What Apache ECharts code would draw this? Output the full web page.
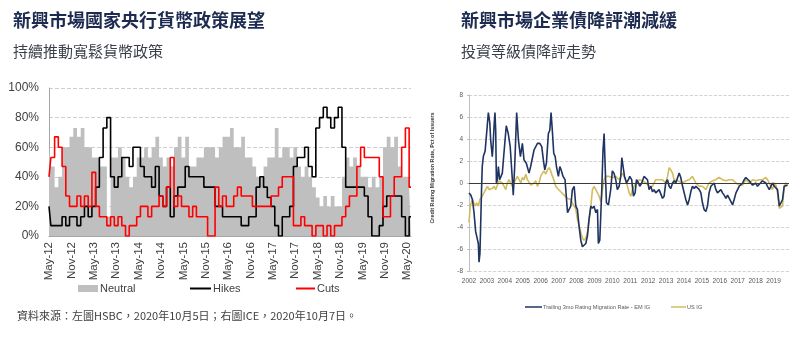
<!DOCTYPE html>
<html><head><meta charset="utf-8">
<script src="https://cdn.jsdelivr.net/npm/echarts@6/dist/echarts.min.js"></script>
<style>html,body{margin:0;padding:0;background:#fff}#c{width:801px;height:341px}</style>
</head><body><div id="c"></div>
<script>
// ---------- Left chart: EM central bank policy (monthly, May-12 .. Jun-20) ----------
const monNames = ['Jan','Feb','Mar','Apr','May','Jun','Jul','Aug','Sep','Oct','Nov','Dec'];
const months = [];
for (let i = 0; i < 98; i++) {
  const mi = (4 + i) % 12, yr = 12 + Math.floor((4 + i) / 12);
  months.push(monNames[mi] + '-' + yr);
}
const neutral = [60,47,33,40,60,60,67,73,67,73,60,60,53,53,47,47,13,53,53,60,
                 53,40,33,40,53,53,60,53,60,67,53,47,53,47,60,67,53,67,47,47,
                 53,53,60,60,60,53,60,67,67,73,60,60,67,53,53,47,40,40,47,53,
                 53,73,53,60,60,53,60,47,40,47,40,33,26,20,27,20,27,20,20,40,
                 53,47,53,47,40,40,33,40,33,40,60,67,60,67,47,40,40,33];
const hikes = [20,7,7,7,13,7,13,13,7,13,20,13,20,33,53,73,80,40,33,40,
               53,53,47,60,60,47,40,40,33,47,27,20,33,13,27,33,33,47,40,40,
               40,40,33,33,33,20,20,13,13,13,13,13,7,7,13,13,33,40,33,26,
               20,7,0,13,13,20,47,53,53,60,47,40,73,80,87,80,73,80,87,60,
               33,33,33,33,33,27,13,0,0,7,20,27,27,27,27,13,0,13];
const cuts = [40,53,67,60,47,27,20,20,27,20,27,20,43,20,13,13,7,13,7,13,
              7,0,7,7,13,20,20,13,20,20,27,20,33,53,20,27,20,20,13,20,
              13,13,13,0,0,33,20,27,20,20,27,33,27,27,27,20,20,20,20,20,
              27,27,33,40,40,40,7,7,13,7,7,0,7,7,0,7,0,7,7,13,
              20,27,27,47,60,53,53,53,53,40,13,13,27,40,40,60,73,33];
const leftTicks = [0,20,40,60,80,100];

// ---------- Right chart: rating migration rate ----------
const emX = [2002.00,2002.10,2002.19,2002.28,2002.37,2002.46,2002.52,2002.56,2002.61,2002.65,2002.70,2002.74,2002.80,2002.90,2002.98,
 2003.08,2003.16,2003.21,2003.30,2003.34,2003.40,2003.45,2003.49,2003.53,2003.58,2003.64,2003.71,2003.86,2003.95,
 2004.08,2004.19,2004.30,2004.42,2004.47,2004.55,2004.66,2004.76,2004.87,2004.98,
 2005.07,2005.20,2005.35,2005.44,2005.54,2005.63,2005.72,2005.82,2005.95,
 2006.06,2006.15,2006.23,2006.32,2006.43,2006.51,2006.58,2006.65,2006.73,2006.81,2006.88,2006.99,
 2007.07,2007.14,2007.25,2007.36,2007.50,2007.59,2007.68,2007.77,2007.87,2007.96,
 2008.05,2008.14,2008.24,2008.33,2008.42,2008.52,2008.61,2008.70,2008.80,2008.89,2008.98,
 2009.08,2009.17,2009.22,2009.30,2009.36,2009.41,2009.48,2009.54,2009.60,2009.67,2009.78,2009.91,
 2010.00,2010.09,2010.19,2010.28,2010.38,2010.47,2010.53,2010.60,2010.68,2010.79,2010.90,2010.97,
 2011.08,2011.18,2011.27,2011.35,2011.46,2011.53,2011.64,2011.77,2011.87,2011.96,
 2012.05,2012.15,2012.24,2012.33,2012.42,2012.61,2012.80,2012.89,2012.98,
 2013.08,2013.17,2013.26,2013.36,2013.45,2013.54,2013.73,2013.82,2013.92,
 2014.01,2014.10,2014.20,2014.29,2014.38,2014.47,2014.57,2014.66,2014.85,2014.94,
 2015.03,2015.12,2015.22,2015.31,2015.40,2015.50,2015.59,2015.68,2015.78,2015.87,2015.96,
 2016.06,2016.15,2016.24,2016.34,2016.43,2016.52,2016.62,2016.71,2016.80,2016.90,2016.99,
 2017.08,2017.18,2017.27,2017.36,2017.45,2017.55,2017.64,2017.73,2017.83,2017.92,
 2018.01,2018.10,2018.20,2018.38,2018.48,2018.57,2018.66,2018.76,2018.85,2018.94,
 2019.04,2019.13,2019.22,2019.32,2019.41,2019.50,2019.59,2019.69,2019.78];
const emY = [-0.9,-1.1,-1.5,-2.7,-4.4,-4.5,-5.5,-7.2,-6.4,-3.9,-0.6,1.5,2.4,2.9,3.0,
 6.4,5.5,3.9,2.4,3.3,5.2,6.4,4.8,0.0,0.3,1.5,0.3,0.9,2.7,
 5.2,4.5,3.3,0.3,-1.1,1.5,6.4,3.9,2.4,3.6,
 2.1,1.8,0.9,1.5,1.5,3.0,3.0,3.6,3.6,
 3.3,2.1,1.2,1.8,4.5,4.8,6.4,4.8,2.7,2.4,1.5,0.6,
 1.5,1.2,0.6,0.3,-2.7,-2.4,-2.1,-0.6,-0.3,-2.1,
 -2.4,-3.9,-5.2,-5.8,-5.9,-5.5,-4.8,-3.3,-2.1,-2.3,-2.1,
 -2.7,-2.4,-5.5,-5.2,-2.7,-0.6,3.0,4.5,1.5,-1.8,-2.0,-0.6,
 1.1,0.9,0.3,-0.6,-0.3,0.6,2.3,1.5,0.6,0.0,0.3,0.6,
 0.3,-1.2,-0.9,0.3,0.0,-0.3,0.0,0.6,0.5,0.3,
 -0.6,-0.3,-0.8,-0.6,-0.9,-0.6,-1.4,-1.2,0.0,
 0.3,-0.3,-0.5,0.0,0.2,0.0,0.9,0.5,-0.3,
 -0.9,-1.5,-2.0,-1.5,-0.8,-0.3,-0.5,-0.3,-0.6,-0.9,
 -1.8,-2.4,-2.6,-2.1,-0.9,-0.3,-0.2,0.0,-0.6,-0.9,-0.9,
 -0.6,-0.9,-1.1,-1.4,-1.1,-1.2,-1.7,-2.0,-1.5,-0.9,-0.6,
 -0.3,-0.3,0.0,0.3,0.5,0.4,0.2,0.0,-0.2,-0.3,
 0.0,-0.3,-0.2,0.2,0.2,0.0,-0.3,-0.6,-0.3,0.0,
 -0.3,-0.2,-0.6,-2.1,-2.1,-1.5,-0.3,-0.2,-0.2];
const usX = [2002.00,2002.07,2002.19,2002.24,2002.33,2002.43,2002.52,2002.61,2002.74,2002.84,2002.93,
 2003.03,2003.12,2003.21,2003.30,2003.40,2003.49,2003.58,2003.68,2003.77,2003.86,2003.96,
 2004.05,2004.14,2004.23,2004.33,2004.42,2004.51,2004.60,2004.70,2004.79,2004.89,2004.98,
 2005.07,2005.17,2005.26,2005.35,2005.45,2005.54,2005.63,2005.72,2005.82,2005.91,
 2006.00,2006.10,2006.19,2006.28,2006.38,2006.47,2006.56,2006.66,2006.75,2006.84,2006.94,
 2007.03,2007.12,2007.21,2007.31,2007.40,2007.49,2007.59,2007.68,2007.77,2007.87,2007.96,
 2008.05,2008.15,2008.24,2008.33,2008.42,2008.52,2008.61,2008.70,2008.80,2008.89,2008.98,
 2009.08,2009.17,2009.26,2009.36,2009.45,2009.54,2009.63,2009.73,2009.82,
 2010.00,2010.19,2010.38,2010.56,2010.75,2010.94,
 2011.03,2011.12,2011.31,2011.50,2011.68,2011.87,
 2012.05,2012.24,2012.42,2012.61,2012.80,2012.98,
 2013.08,2013.17,2013.26,2013.36,2013.45,2013.54,2013.64,2013.73,2013.92,
 2014.10,2014.29,2014.47,2014.57,2014.66,2014.85,
 2015.03,2015.22,2015.40,2015.59,2015.78,2015.96,
 2016.15,2016.34,2016.52,2016.71,2016.90,
 2017.08,2017.27,2017.45,2017.64,2017.83,
 2018.01,2018.20,2018.38,2018.57,2018.66,2018.76,2018.85,2018.94,
 2019.04,2019.13,2019.22,2019.32,2019.41,2019.50,2019.59,2019.69,2019.78];
const usY = [-3.6,-2.1,-1.5,-1.7,-2.1,-1.8,-2.1,-1.5,-1.2,-1.1,-0.6,
 -0.3,-0.6,-0.5,-0.5,-0.3,-0.6,-0.2,0.2,0.3,0.0,-0.3,
 -0.6,0.0,0.3,0.2,-0.3,-0.3,0.3,0.6,0.5,0.0,0.5,
 0.3,0.8,0.3,0.2,-0.2,-0.3,0.0,0.2,-0.3,0.0,
 0.6,0.9,1.1,0.8,1.2,1.4,1.1,0.6,0.2,-0.3,-0.5,
 -0.6,-0.8,-0.9,-1.1,-1.2,-1.4,-1.5,-1.5,-1.8,-2.1,-2.4,
 -3.3,-3.9,-4.5,-5.0,-5.2,-5.0,-4.5,-3.3,-2.1,-0.6,-0.3,
 -0.3,-0.9,-1.2,-1.7,-0.6,0.3,0.6,0.5,0.6,
 0.5,0.6,0.3,0.9,0.3,-0.9,
 -1.2,-0.6,0.0,0.3,0.2,0.0,
 -0.3,-0.3,0.3,0.3,0.3,0.0,
 0.6,1.4,1.2,0.9,0.3,0.3,0.2,0.3,0.0,
 0.2,0.3,0.6,0.5,0.0,-0.3,
 -0.3,-0.6,0.0,0.2,0.3,0.5,
 0.3,0.2,0.3,0.3,0.0,
 -0.2,-0.2,0.3,0.0,0.3,
 0.2,0.3,0.3,0.5,0.3,0.0,-0.3,-0.6,
 0.0,-0.2,-0.9,-2.3,-2.3,-2.1,-0.3,0.0,-0.2];

const emName = 'Trailing 3mo Rating Migration Rate - EM IG';
const usName = 'US IG';
const pair = (xs, ys) => xs.map((x, i) => [x, ys[i]]);

const CJK = '"Noto Sans CJK TC","Noto Sans CJK SC",sans-serif';
const LAT = '"Liberation Sans",Arial,sans-serif';

const chart = echarts.init(document.getElementById('c'), null, {renderer: 'canvas'});
chart.setOption({
  animation: false,
  backgroundColor: '#fff',
  title: [
    {left: 13, top: 10, padding: 0, itemGap: 13,
     text: '新興市場國家央行貨幣政策展望', subtext: '持續推動寬鬆貨幣政策',
     textStyle: {fontFamily: CJK, fontSize: 18, fontWeight: 'bold', color: '#1c2b4f', lineHeight: 20},
     subtextStyle: {fontFamily: CJK, fontSize: 15, color: '#3a3f4a', lineHeight: 16}},
    {left: 461, top: 10, padding: 0, itemGap: 13,
     text: '新興市場企業債降評潮減緩', subtext: '投資等級債降評走勢',
     textStyle: {fontFamily: CJK, fontSize: 18, fontWeight: 'bold', color: '#1c2b4f', lineHeight: 20},
     subtextStyle: {fontFamily: CJK, fontSize: 15, color: '#3a3f4a', lineHeight: 16}},
    {left: 17, top: 310, padding: 0,
     text: '資料來源：左圖HSBC，2020年10月5日；右圖ICE，2020年10月7日。',
     textStyle: {fontFamily: CJK, fontSize: 11, fontWeight: 'normal', color: '#404040'}}
  ],
  legend: [
    {left: 78, top: 283, padding: 0, data: [{name: 'Neutral', icon: 'rect'}], itemWidth: 20, itemHeight: 7, itemGap: 0,
     textStyle: {fontFamily: LAT, fontSize: 11, color: '#404040', padding: [0, 0, 0, -3]}},
    {left: 190, top: 283, padding: 0, data: [{name: 'Hikes', icon: 'rect'}], itemWidth: 21, itemHeight: 2,
     textStyle: {fontFamily: LAT, fontSize: 11, color: '#404040', padding: [0, 0, 0, -3]}},
    {left: 296, top: 283, padding: 0, data: [{name: 'Cuts', icon: 'rect'}], itemWidth: 19, itemHeight: 2,
     textStyle: {fontFamily: LAT, fontSize: 11, color: '#404040', padding: [0, 0, 0, -3]}},
    {left: 525, top: 304, padding: 0, data: [{name: emName, icon: 'rect'}], itemWidth: 17, itemHeight: 1.5,
     textStyle: {fontFamily: LAT, fontSize: 5.6, color: '#595959', padding: [0, 0, 0, -4]}},
    {left: 671, top: 304, padding: 0, data: [{name: usName, icon: 'rect'}], itemWidth: 15, itemHeight: 1.5,
     textStyle: {fontFamily: LAT, fontSize: 5.6, color: '#595959', padding: [0, 0, 0, -4]}}
  ],
  graphic: [
    {type: 'text', x: 433, y: 168, rotation: Math.PI / 2,
     style: {text: 'Credit Rating Migration Rate, Pct of Issuers', fontFamily: LAT, fontSize: 5.4, fontWeight: 'bold',
             fill: '#404040', align: 'center', verticalAlign: 'middle'}}
  ],
  grid: [
    {left: 49, top: 88, width: 362, height: 148},
    {left: 469, top: 95, width: 320, height: 176}
  ],
  xAxis: [
    {gridIndex: 0, type: 'category', data: months, boundaryGap: false,
     axisLine: {lineStyle: {color: '#a6a6a6'}}, axisTick: {show: false},
     axisLabel: {rotate: 90, interval: 5, fontFamily: LAT, fontSize: 11.5, color: '#404040', margin: 6}},
    {gridIndex: 1, type: 'value', min: 2002, max: 2019.86, interval: 1,
     axisLine: {show: false, onZero: false}, axisTick: {show: false}, splitLine: {show: false},
     axisLabel: {fontFamily: LAT, fontSize: 6.5, color: '#595959', margin: 7, showMaxLabel: false,
                 formatter: v => (Math.abs(v - Math.round(v)) < 1e-6 ? String(Math.round(v)) : '')}}
  ],
  yAxis: [
    {gridIndex: 0, type: 'value', min: leftTicks[0], max: leftTicks[leftTicks.length - 1], interval: 20,
     axisLine: {show: true, lineStyle: {color: '#a6a6a6'}}, axisTick: {show: false},
     axisLabel: {formatter: '{value}%', fontFamily: LAT, fontSize: 12, color: '#404040', margin: 10},
     splitLine: {lineStyle: {color: '#cfcfcf', type: 'dashed'}}},
    {gridIndex: 1, type: 'value', min: -8, max: 8, interval: 2,
     axisLine: {show: true, lineStyle: {color: '#bfbfbf'}}, axisTick: {show: true, length: 2, lineStyle: {color: '#bfbfbf'}},
     axisLabel: {fontFamily: LAT, fontSize: 6.5, color: '#595959', margin: 6},
     splitLine: {lineStyle: {color: '#c8c8c8', type: 'dashed', width: 0.8}}}
  ],
  series: [
    {name: 'Neutral', type: 'line', xAxisIndex: 0, yAxisIndex: 0, data: neutral, step: 'middle',
     symbol: 'none', color: '#bfbfbf', lineStyle: {width: 0}, areaStyle: {color: '#bfbfbf', opacity: 1}},
    {name: 'Hikes', type: 'line', xAxisIndex: 0, yAxisIndex: 0, data: hikes, step: 'middle',
     symbol: 'none', color: '#000000', lineStyle: {width: 1.6}},
    {name: 'Cuts', type: 'line', xAxisIndex: 0, yAxisIndex: 0, data: cuts, step: 'middle',
     symbol: 'none', color: '#ff0000', lineStyle: {width: 1.6}},
    {name: usName, type: 'line', xAxisIndex: 1, yAxisIndex: 1, data: pair(usX, usY),
     symbol: 'none', color: '#d2bc5e', lineStyle: {width: 1.6},
     markLine: {silent: true, symbol: 'none', label: {show: false},
                lineStyle: {color: '#3a3a3a', width: 1, type: 'solid'}, data: [{yAxis: 0}]}},
    {name: emName, type: 'line', xAxisIndex: 1, yAxisIndex: 1, data: pair(emX, emY),
     symbol: 'none', color: '#1f3460', lineStyle: {width: 1.6}}
  ]
});
</script>
</body></html>
